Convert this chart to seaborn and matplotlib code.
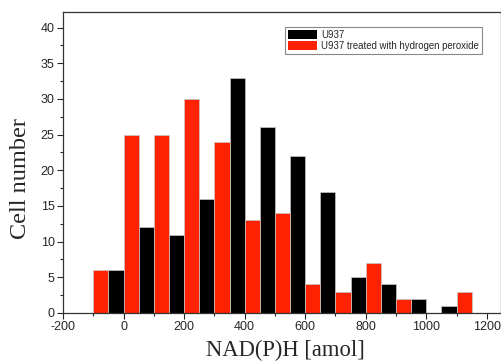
import numpy as np
import pandas as pd
import matplotlib
matplotlib.use("Agg")
import matplotlib.pyplot as plt
from matplotlib.patches import Patch
from matplotlib.ticker import MultipleLocator
import seaborn as sns

bin_starts = [-100, 0, 100, 200, 300, 400, 500, 600, 700, 800, 900, 1000, 1100]
u937 = [6, 12, 11, 16, 33, 26, 22, 17, 5, 4, 2, 1, 0]
treated = [6, 25, 25, 30, 24, 13, 14, 4, 3, 7, 2, 0, 3]
label_u = "U937"
label_t = "U937 treated with hydrogen peroxide"
red = "#FF2200"

# expand the bin counts into individual observations (at the bin centres)
centres = np.array(bin_starts) + 50
df = pd.DataFrame({
    "x": np.concatenate([np.repeat(centres, treated), np.repeat(centres, u937)]),
    "group": [label_t] * sum(treated) + [label_u] * sum(u937),
})

sns.set_style("ticks")
plt.rcParams['font.family'] = ['Liberation Sans', 'DejaVu Sans']
plt.rcParams['axes.unicode_minus'] = False

fig = plt.figure(figsize=(5.02, 3.61), dpi=100)
ax = fig.add_axes([0.1255, 0.133, 0.872, 0.834])

edges = np.arange(-100, 1201, 100)
sns.histplot(data=df, x="x", hue="group",
             hue_order=[label_t, label_u], bins=edges, multiple="dodge",
             shrink=1, palette={label_t: red, label_u: "black"}, alpha=1,
             edgecolor="#c8c8c8", linewidth=0.5, legend=False, ax=ax)

ax.set_xlim(-200, 1246)
ax.set_ylim(0, 42.2)
ax.xaxis.set_major_locator(MultipleLocator(200))
ax.xaxis.set_minor_locator(MultipleLocator(100))
ax.yaxis.set_major_locator(MultipleLocator(5))
ax.yaxis.set_minor_locator(MultipleLocator(2.5))
ax.tick_params(which="major", direction="out", length=4, width=0.8, labelsize=9, pad=2)
ax.tick_params(which="minor", direction="out", length=2.5, width=0.8)
for s in ax.spines.values():
    s.set_visible(True)
    s.set_linewidth(0.9)
    s.set_color("#333333")

ax.set_xlabel("NAD(P)H [amol]", family=["Liberation Serif"], fontsize=16.3)
ax.set_ylabel("Cell number", family=["Liberation Serif"], fontsize=17.5)
ax.xaxis.set_label_coords(0.508, -0.088)
ax.yaxis.set_label_coords(-0.074, 0.445)

handles = [Patch(facecolor="black", edgecolor="none", label=label_u),
           Patch(facecolor=red, edgecolor="none", label=label_t)]
leg = ax.legend(handles=handles, loc="upper right", bbox_to_anchor=(0.957, 0.951),
                fontsize=6.9, frameon=True, fancybox=False, framealpha=1,
                edgecolor="#888888", handlelength=3.0, handleheight=1.0,
                borderpad=0.35, labelspacing=0.1, handletextpad=0.4, borderaxespad=0)
leg.get_frame().set_linewidth(0.8)

fig.savefig("out.png", dpi=100)
